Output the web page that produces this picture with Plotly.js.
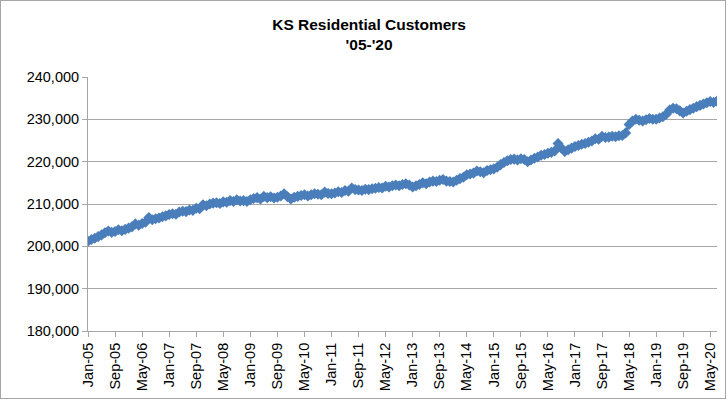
<!DOCTYPE html>
<html>
<head>
<meta charset="utf-8">
<script src="https://cdn.plot.ly/plotly-3.0.1.min.js"></script>
<style>
  html, body { margin: 0; padding: 0; background: #ffffff; }
  #wrap { position: relative; width: 728px; height: 402px; }
  #chart { position: absolute; left: 0; top: 0; width: 728px; height: 402px; }
  #frame { position: absolute; left: 0; top: 0; width: 724px; height: 397px;
           border: 1px solid #a6a6a6; pointer-events: none; }
</style>
</head>
<body>
<div id="wrap">
  <div id="chart"></div>
  <div id="frame"></div>
</div>
<script>
// Monthly categories Jan-05 .. Jul-20
const monthNames = ['Jan','Feb','Mar','Apr','May','Jun','Jul','Aug','Sep','Oct','Nov','Dec'];
const firstYear = 2005, lastYear = 2020, lastMonthIndex = 6; // Jul-20
const categories = [];
for (let y = firstYear; y <= lastYear; y++) {
  for (let m = 0; m < 12; m++) {
    if (y === lastYear && m > lastMonthIndex) break;
    categories.push(monthNames[m] + '-' + String(y).slice(2));
  }
}

// Residential customers
const customers = [
  201200, 201600, 201900, 202300, 202700, 203200, 203600, 203300, 203500, 203900, 203700, 204000, // 2005
  204300, 204600, 205300, 205000, 205400, 205700, 206800, 206300, 206500, 206700, 207000, 207200, // 2006
  207500, 207700, 207600, 208100, 208300, 208200, 208600, 208500, 209000, 208900, 209800, 209600, // 2007
  210000, 210200, 210300, 210100, 210500, 210400, 210800, 210600, 211000, 210700, 210800, 210600, // 2008
  211000, 211300, 211500, 211200, 211800, 211500, 211700, 211400, 211600, 211900, 212400, 211700, // 2009
  211200, 211600, 211800, 212000, 212200, 211900, 212200, 212400, 212300, 212200, 212800, 212500, // 2010
  212400, 212600, 212900, 212700, 213200, 213000, 213800, 213400, 213300, 213200, 213500, 213400, // 2011
  213600, 213700, 213900, 213800, 214200, 214000, 214300, 214500, 214300, 214600, 214800, 214500, // 2012
  214000, 214300, 214600, 215000, 214800, 215200, 215400, 215300, 215600, 215800, 215400, 215300, // 2013
  215200, 215600, 216000, 216300, 216900, 217100, 217300, 217800, 217600, 217400, 217900, 218100, // 2014
  218300, 218700, 219300, 219800, 220200, 220500, 220600, 220400, 220700, 220500, 220000, 220400, // 2015
  220800, 221100, 221500, 221700, 222000, 222200, 222500, 224300, 223200, 222400, 222800, 223200, // 2016
  223600, 223800, 224100, 224300, 224600, 224900, 225400, 225300, 226000, 225700, 225800, 226000, // 2017
  225900, 226100, 226200, 226800, 228800, 229600, 230000, 229800, 229600, 229900, 230200, 230000, // 2018
  230000, 230300, 230600, 231200, 232200, 232600, 232500, 232000, 231500, 231900, 232300, 232600, // 2019
  233000, 233300, 233600, 233900, 234200, 234000, 234300                                          // 2020
];

// x tick labels every 8 months
const tickLabels = categories.filter((c, i) => i % 8 === 0);

const yTicks = [180000, 190000, 200000, 210000, 220000, 230000, 240000];

const seriesColor = '#4a7ebb';
const gridColor = '#a6a6a6';
const fontFamily = 'Liberation Sans, Arial, sans-serif';

const trace = {
  type: 'scatter',
  mode: 'lines+markers',
  x: categories,
  y: customers,
  line: { color: seriesColor, width: 2.5 },
  marker: { symbol: 'diamond', size: 8.5, color: seriesColor, line: { width: 0 } },
  hoverinfo: 'x+y',
  showlegend: false
};

const layout = {
  width: 728,
  height: 402,
  margin: { l: 88, r: 11, t: 77, b: 71 },
  paper_bgcolor: '#ffffff',
  plot_bgcolor: '#ffffff',
  font: { family: fontFamily, color: '#000000', size: 14.5 },
  title: {
    text: "KS Residential Customers<br>'05-'20",
    font: { family: fontFamily, size: 15.5, weight: 700, color: '#000000' },
    x: 0.507, xref: 'container', xanchor: 'center',
    y: 0.925, yref: 'container', yanchor: 'top'
  },
  xaxis: {
    type: 'category',
    range: [0, categories.length - 1],
    tickmode: 'array',
    tickvals: tickLabels,
    ticktext: tickLabels,
    tickangle: -90,
    ticks: 'outside',
    ticklen: 5,
    tickcolor: gridColor,
    showgrid: false,
    showline: true,
    linecolor: gridColor,
    linewidth: 1,
    zeroline: false,
    tickfont: { family: fontFamily, size: 14.5, color: '#000000' }
  },
  yaxis: {
    range: [180000, 240000],
    tickmode: 'array',
    tickvals: yTicks,
    tickformat: ',.0f',
    ticks: 'outside',
    ticklen: 5,
    tickcolor: gridColor,
    showgrid: true,
    gridcolor: gridColor,
    gridwidth: 1,
    showline: true,
    linecolor: gridColor,
    linewidth: 1,
    zeroline: false,
    tickfont: { family: fontFamily, size: 14.5, color: '#000000' }
  }
};

Plotly.newPlot('chart', [trace], layout, { staticPlot: true, displayModeBar: false });
</script>
</body>
</html>
